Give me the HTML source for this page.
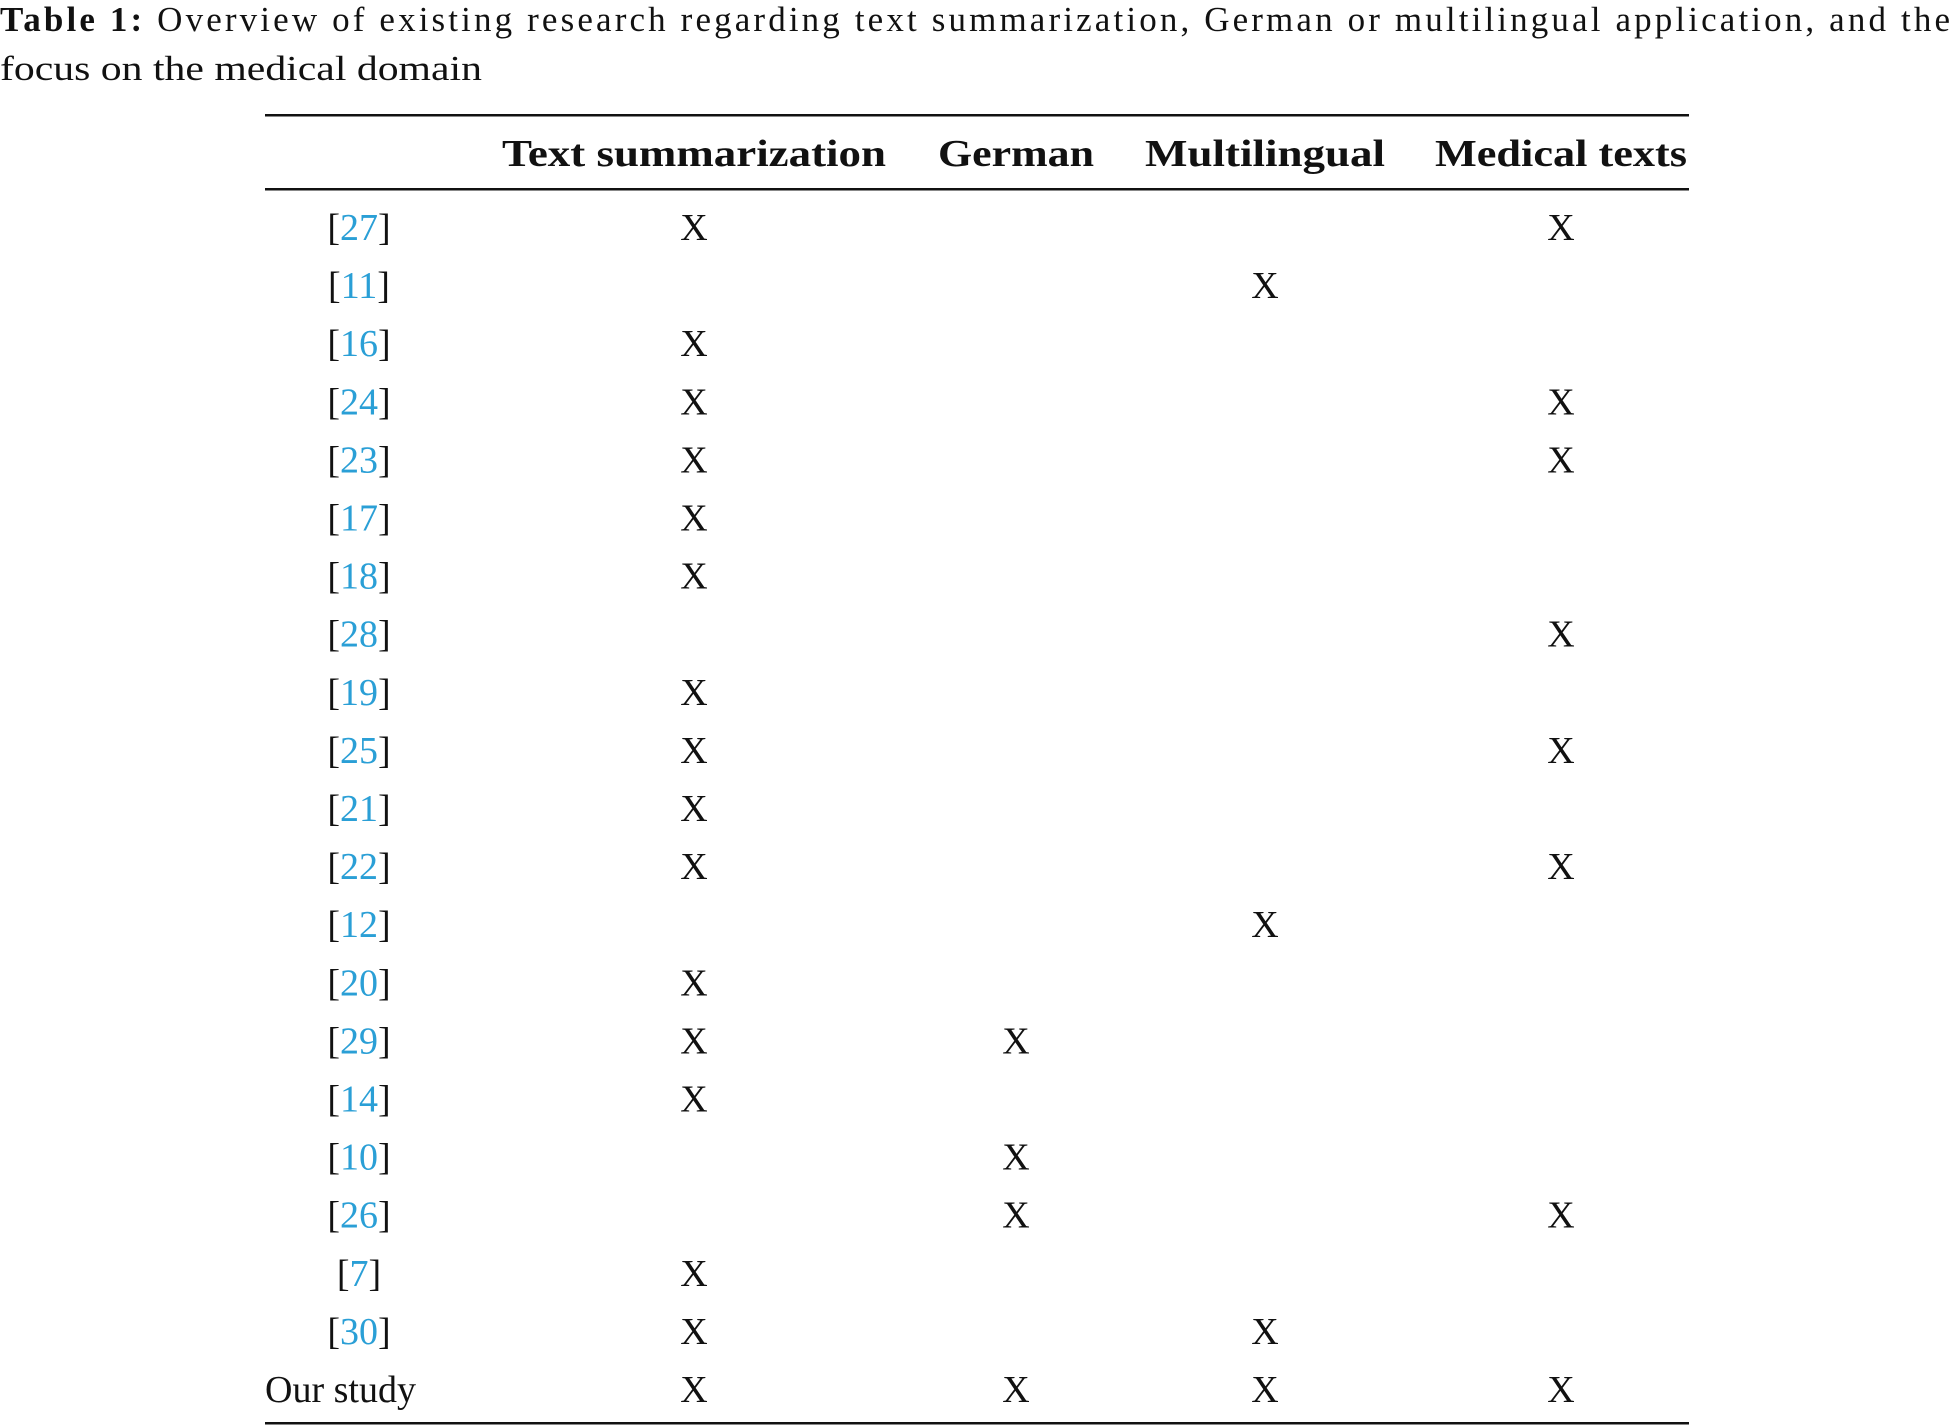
<!DOCTYPE html>
<html><head><meta charset="utf-8"><style>
html,body{margin:0;padding:0;background:#fff;}
svg{display:block;font-family:"Liberation Serif",serif;}
</style></head><body>
<svg id="t" width="1954" height="1427" viewBox="0 0 1954 1427">
<text x="0" y="31" font-size="35" fill="#111" textLength="1950" lengthAdjust="spacing"><tspan font-weight="bold">Table 1:</tspan> Overview of existing research regarding text summarization, German or multilingual application, and the</text>
<text x="0" y="80" font-size="35" fill="#111" textLength="482" lengthAdjust="spacingAndGlyphs">focus on the medical domain</text>
<rect x="265" y="114" width="1424" height="2.5" fill="#111"/>
<rect x="265" y="188" width="1424" height="2.5" fill="#111"/>
<rect x="265" y="1422" width="1424" height="2.5" fill="#111"/>
<g id="hdr" font-weight="bold" font-size="38" fill="#111"></g>
<g id="rows" font-size="38" fill="#111"></g>
</svg>
<script>
const headers=["Text summarization","German","Multilingual","Medical texts"];
const headerWidths=[384,156,240,252];
const refs=["27","11","16","24","23","17","18","28","19","25","21","22","12","20","29","14","10","26","7","30","Our study"];
const marks=[[1,0,0,1],[0,0,1,0],[1,0,0,0],[1,0,0,1],[1,0,0,1],[1,0,0,0],[1,0,0,0],[0,0,0,1],[1,0,0,0],[1,0,0,1],[1,0,0,0],[1,0,0,1],[0,0,1,0],[1,0,0,0],[1,1,0,0],[1,0,0,0],[0,1,0,0],[0,1,0,1],[1,0,0,0],[1,0,1,0],[1,1,1,1]];
const colX=[694,1016,1265,1561];
const refX=359, row0=227, rowH=58.1;
const NS="http://www.w3.org/2000/svg";
const hdr=document.getElementById('hdr'), rows=document.getElementById('rows');
headers.forEach((h,i)=>{
  const t=document.createElementNS(NS,'text');
  t.setAttribute('x',colX[i]);t.setAttribute('y',166);
  t.setAttribute('text-anchor','middle');
  t.setAttribute('textLength',headerWidths[i]);t.setAttribute('lengthAdjust','spacingAndGlyphs');
  t.textContent=h;
  
  
  hdr.appendChild(t);
});
refs.forEach((r,i)=>{
  const y=row0+i*rowH+13;
  const t=document.createElementNS(NS,'text');
  if(r==="Our study"){
    t.setAttribute('x',265);t.textContent=r;
  } else {
    t.setAttribute('x',refX);t.setAttribute('text-anchor','middle');
    const a=document.createElementNS(NS,'tspan');a.textContent='[';
    const b=document.createElementNS(NS,'tspan');b.textContent=r;b.setAttribute('fill','#2a9fd6');
    const c=document.createElementNS(NS,'tspan');c.textContent=']';
    t.appendChild(a);t.appendChild(b);t.appendChild(c);
  }
  t.setAttribute('y',y);
  
  
  rows.appendChild(t);
  marks[i].forEach((m,j)=>{
    if(!m)return;
    const x=document.createElementNS(NS,'text');
    x.setAttribute('x',colX[j]);x.setAttribute('y',y);x.setAttribute('text-anchor','middle');
    x.textContent='X';
    
    
    rows.appendChild(x);
  });
});
</script>
</body></html>
